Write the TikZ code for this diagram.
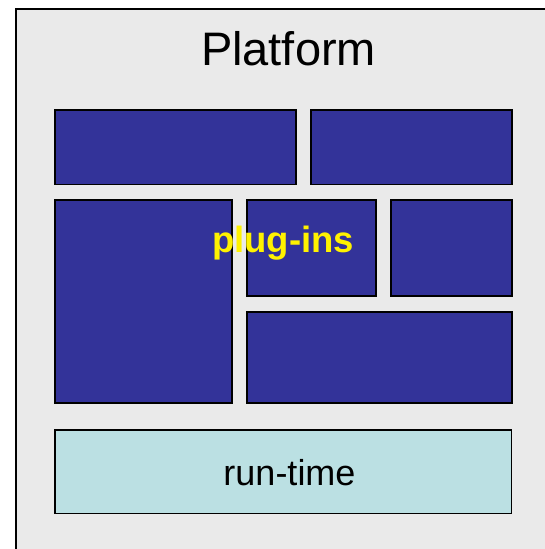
\documentclass[tikz,border=0pt]{standalone}
\usepackage{fontspec}
\setmainfont{Liberation Sans}
\definecolor{platgray}{HTML}{EAEAEA}
\definecolor{plugblue}{HTML}{333399}
\definecolor{runcyan}{HTML}{BBE0E3}
\begin{document}
\begin{tikzpicture}[x=1pt,y=-1pt,
  plugbox/.style={draw=black,line width=1.5pt,fill=plugblue},
  runbox/.style={draw=black,line width=1.5pt,fill=runcyan},
  label/.style={inner sep=0pt,anchor=base}]
  \useasboundingbox (0,0) rectangle (545,549);
  \clip (0,0) rectangle (545,549);
  \fill[white] (0,0) rectangle (545,549);
  % platform frame, running off the right and bottom edges
  \draw[line width=2pt,fill=platgray] (16,9) rectangle (570,580);
  \node[label,font=\fontsize{47}{51}\selectfont] (platform) at (288.5,65.5) {Platform};
  % plug-in blocks
  \draw[plugbox] (55,110) rectangle (296,184.5) coordinate (p1);
  \draw[plugbox] (311,110) rectangle (512,184.5) coordinate (p2);
  \draw[plugbox] (55,200) rectangle (232,403) coordinate (p3);
  \draw[plugbox] (247,200) rectangle (376,296) coordinate (p4);
  \draw[plugbox] (391,200) rectangle (512,296) coordinate (p5);
  \draw[plugbox] (247,312) rectangle (512,403) coordinate (p6);
  \node[label,font=\fontsize{36.5}{40}\selectfont\bfseries,text=yellow] (plugins) at (283,252) {plug-ins};
  % run-time layer
  \draw[runbox] (55,430) rectangle (511.5,513.5) coordinate (rt);
  \node[label,font=\fontsize{36}{40}\selectfont] (runtime) at (289.5,485) {run-time};
\end{tikzpicture}
\end{document}
